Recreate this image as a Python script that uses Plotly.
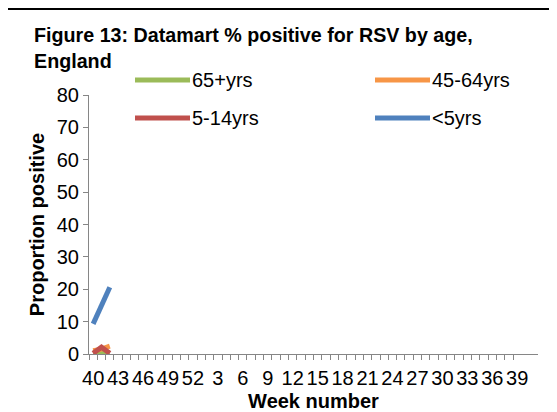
import plotly.graph_objects as go

weeks = [str(w) for w in list(range(40, 53)) + list(range(1, 42))]
series_names = ["65+yrs", "45-64yrs", "5-14yrs", "<5yrs"]
series_colors = ["#9BBB59", "#F79646", "#C0504D", "#4F81BD"]
data_weeks = ["40", "41", "42"]
v_65plus = [0.4, 0.8, 0.4]
v_45_64 = [1.0, 1.5, 2.4]
v_5_14 = [0.2, 2.1, 0.2]
v_under5 = [9.3, 15.0, 20.6]
series_values = [v_65plus, v_45_64, v_5_14, v_under5]
y_ticks = list(range(0, 81, 10))
tick_labels = [w if i % 3 == 0 else "" for i, w in enumerate(weeks)]

OFF = 8  # page body margin
W, H = 557 - OFF, 412 - OFF
# plot area in screen pixels: left 89, right 538, top 95, bottom 354
L, R, T, B = 89 - OFF, 557 - 538, 95 - OFF, 412 - 354
pw, ph = W - L - R, H - T - B

def px(x):  # screen px -> paper
    return (x - OFF - L) / pw

def py(y):
    return (H - B - (y - OFF)) / ph

FONT = "Liberation Sans, Arial, sans-serif"

fig = go.Figure()
for name, vals, col in zip(series_names, series_values, series_colors):
    fig.add_trace(go.Scatter(x=data_weeks, y=vals, mode="lines", name=name,
                             line=dict(color=col, width=5), showlegend=False))

fig.update_layout(
    width=W, height=H, margin=dict(l=L, r=R, t=T, b=B, autoexpand=False),
    paper_bgcolor="white", plot_bgcolor="white",
    font=dict(family=FONT, size=20, color="#000000"),
    showlegend=False,
    xaxis=dict(type="category", categoryorder="array", categoryarray=weeks,
               range=[-0.5, len(weeks) - 0.5], tickmode="array",
               tickvals=weeks, ticktext=tick_labels, tickson="boundaries",
               ticks="outside", ticklen=5, tickcolor="#868686", tickangle=0,
               ticklabelstandoff=6,
               showline=True, linecolor="#868686", linewidth=1, showgrid=False,
               zeroline=False, tickfont=dict(size=20), automargin=False,
               title=dict(text="<b>Week number</b>", font=dict(size=20), standoff=5)),
    yaxis=dict(range=[0, 80], tickmode="array", tickvals=y_ticks,
               ticks="outside", ticklen=5, tickcolor="#868686",
               showline=True, linecolor="#868686", linewidth=1, showgrid=False,
               zeroline=False, tickfont=dict(size=20), automargin=False,
               title=dict(text="<b>Proportion positive</b>", font=dict(size=20), standoff=6)),
)

# chart frame
fig.add_shape(type="rect", xref="paper", yref="paper",
              x0=px(6), x1=px(600), y0=py(9), y1=py(450),
              line=dict(color="black", width=2), fillcolor="rgba(0,0,0,0)")

# title
fig.add_annotation(xref="paper", yref="paper", x=px(32), y=py(22),
                   xanchor="left", yanchor="top", align="left", showarrow=False,
                   text="<b>Figure 13: Datamart % positive for RSV by age,<br>England</b>",
                   font=dict(size=19.7, family=FONT))

# manual legend
leg_pos = [(135, 80), (375, 80), (135, 118), (375, 118)]
for (lx, ly), name, col in zip(leg_pos, series_names, series_colors):
    fig.add_shape(type="line", xref="paper", yref="paper",
                  x0=px(lx), x1=px(lx + 55), y0=py(ly), y1=py(ly),
                  line=dict(color=col, width=5))
    fig.add_annotation(xref="paper", yref="paper", x=px(lx + 55), y=py(ly),
                       xanchor="left", yanchor="middle", showarrow=False,
                       text=name, font=dict(size=20, family=FONT))

fig.write_html("out.html")
